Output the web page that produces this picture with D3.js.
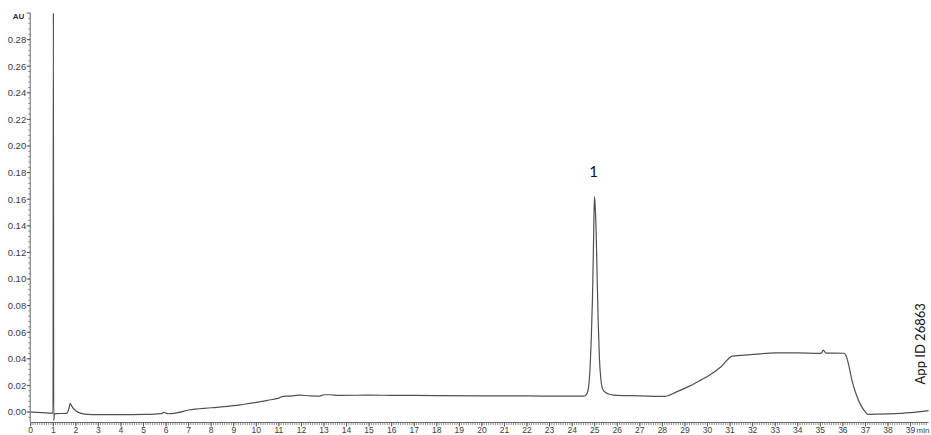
<!DOCTYPE html>
<html>
<head>
<meta charset="utf-8">
<script src="https://cdn.jsdelivr.net/npm/d3@7"></script>
<style>
    body { margin: 0; background: #fff; }
    svg { display: block; }
</style>
</head>
<body>
<svg id="chart" width="931" height="435"></svg>
<script>
// chromatogram trace: [time (min), absorbance (AU)]
const trace = [
    [0, 0.0], [0.5, -0.0004], [0.97, -0.0008], [0.99, -0.0008], [1.005, 0.30],
    [1.02, -0.0065], [1.05, -0.002], [1.1, -0.0012], [1.6, -0.001],
    [1.7, 0.003], [1.75, 0.0065], [1.8, 0.005], [1.9, 0.0025], [2.0, 0.001],
    [2.2, -0.0008], [2.5, -0.0017], [3, -0.002], [4, -0.002], [5, -0.0018],
    [5.8, -0.0012], [5.9, -0.0002], [6.0, -0.0008], [6.1, -0.0013],
    [6.5, -0.0005], [7, 0.0015], [8, 0.0032], [9, 0.0048], [10, 0.0073],
    [10.5, 0.0088], [11, 0.0105], [11.2, 0.0118], [11.5, 0.012],
    [11.9, 0.0127], [12.4, 0.0122], [12.8, 0.012], [13.0, 0.013],
    [13.3, 0.013], [13.6, 0.0125], [15, 0.0127], [16, 0.0125], [18, 0.0124],
    [20, 0.0122], [22, 0.0121], [24, 0.0119], [24.5, 0.012], [24.6, 0.0125],
    [24.7, 0.016], [24.75, 0.022], [24.8, 0.035], [24.85, 0.056],
    [24.9, 0.085], [24.94, 0.12], [24.97, 0.15], [24.99, 0.1617],
    [25.02, 0.155], [25.06, 0.138], [25.11, 0.1], [25.16, 0.065],
    [25.21, 0.04], [25.27, 0.025], [25.36, 0.017], [25.5, 0.0145],
    [25.7, 0.0132], [26, 0.0125], [27, 0.0122], [28.1, 0.0118],
    [28.6, 0.015], [29.2, 0.0195], [29.7, 0.024], [30.1, 0.0278],
    [30.6, 0.034], [31.1, 0.042], [31.9, 0.0431], [33.0, 0.0444],
    [34.0, 0.0445], [34.9, 0.0441], [35.05, 0.0443], [35.13, 0.0466],
    [35.25, 0.0443], [36.05, 0.0442], [36.15, 0.042], [36.25, 0.036],
    [36.4, 0.024], [36.6, 0.0128], [36.8, 0.005], [37.0, 0.0], [37.1, -0.0017],
    [38, -0.0014], [39, -0.0005], [39.8, 0.001]
];

const yTicks = [0, 0.02, 0.04, 0.06, 0.08, 0.10, 0.12, 0.14, 0.16, 0.18, 0.20, 0.22, 0.24, 0.26, 0.28];
const xTicks = d3.range(0, 40);
const peakLabels = [{ t: 24.99, v: 0.1617, text: "1" }];
const appId = "App ID 26863";

const svg = d3.select("#chart");

const x = d3.scaleLinear().domain([0, 39.8]).range([30.7, 928.6]);
const y = d3.scaleLinear().domain([-0.0075, 0.30]).range([422, 13]);

// y axis with minor ticks
const yAxis = svg.append("g").attr("transform", `translate(${x(0) - 0.5},0)`);
yAxis.append("line")
    .attr("y1", y(0.30)).attr("y2", y(-0.0075))
    .attr("stroke", "#666").attr("stroke-width", 1);
yAxis.selectAll(".minor")
    .data(d3.range(-0.004, 0.30, 0.004))
    .enter()
    .append("line")
    .attr("x1", -2).attr("x2", 0)
    .attr("y1", (d) => y(d)).attr("y2", (d) => y(d))
    .attr("stroke", "#777").attr("stroke-width", 0.8);
yAxis.selectAll(".major")
    .data(yTicks)
    .enter()
    .append("line")
    .attr("x1", -3.5).attr("x2", 0)
    .attr("y1", (d) => y(d)).attr("y2", (d) => y(d))
    .attr("stroke", "#555");
yAxis.selectAll("text")
    .data(yTicks)
    .enter()
    .append("text")
    .attr("x", -4)
    .attr("y", (d) => y(d) + 3.3)
    .attr("text-anchor", "end")
    .attr("font-family", "Liberation Sans, Arial, sans-serif")
    .attr("font-size", 9.5)
    .attr("fill", "#3a3a3a")
    .text((d) => d.toFixed(2));
// top end tick + unit label
yAxis.append("line")
    .attr("x1", -3.5).attr("x2", 0)
    .attr("y1", y(0.30)).attr("y2", y(0.30))
    .attr("stroke", "#555");
yAxis.append("text")
    .attr("x", -6).attr("y", y(0.30) + 6)
    .attr("text-anchor", "end")
    .attr("font-family", "Liberation Sans, Arial, sans-serif")
    .attr("font-size", 8).attr("font-weight", "bold")
    .attr("fill", "#333")
    .text("AU");

// x axis with minor ticks
const xAxis = svg.append("g").attr("transform", `translate(0,${y(-0.0075) + 0.5})`);
xAxis.append("line")
    .attr("x1", x(0)).attr("x2", x(39.8))
    .attr("stroke", "#666");
xAxis.selectAll(".minor")
    .data(d3.range(0, 398).map((i) => i / 10))
    .enter()
    .append("line")
    .attr("x1", (d) => x(d)).attr("x2", (d) => x(d))
    .attr("y1", 0).attr("y2", 2.5)
    .attr("stroke", "#777").attr("stroke-width", 0.8);
xAxis.selectAll(".major")
    .data(xTicks)
    .enter()
    .append("line")
    .attr("x1", (d) => x(d)).attr("x2", (d) => x(d))
    .attr("y1", 0).attr("y2", 4)
    .attr("stroke", "#555");
xAxis.selectAll("text")
    .data(xTicks)
    .enter()
    .append("text")
    .attr("x", (d) => x(d))
    .attr("y", 10.5)
    .attr("text-anchor", "middle")
    .attr("font-family", "Liberation Sans, Arial, sans-serif")
    .attr("font-size", 8.5)
    .attr("fill", "#3a3a3a")
    .text((d) => d);
xAxis.append("text")
    .attr("x", x(39) + 6).attr("y", 10.5)
    .attr("font-family", "Liberation Sans, Arial, sans-serif")
    .attr("font-size", 8)
    .attr("fill", "#3a3a3a")
    .text("min");

// trace
const line = d3.line()
    .x((d) => x(d[0]))
    .y((d) => y(d[1]))
    .curve(d3.curveMonotoneX);

svg.append("path")
    .datum(trace)
    .attr("d", line)
    .attr("fill", "none")
    .attr("stroke", "#505050")
    .attr("stroke-width", 1.2);

// peak label
svg.selectAll(".peak")
    .data(peakLabels)
    .enter()
    .append("text")
    .attr("x", (d) => x(d.t) - 1)
    .attr("y", (d) => y(d.v) - 20)
    .attr("text-anchor", "middle")
    .attr("font-family", "Lato, Open Sans, sans-serif")
    .attr("font-size", 15)
    .attr("fill", "#111")
    .text((d) => d.text);

// application id
svg.append("text")
    .attr("transform", `translate(925,${y(0.04) - 15}) rotate(-90)`)
    .attr("text-anchor", "middle")
    .attr("font-family", "Lato, Open Sans, sans-serif")
    .attr("font-size", 13)
    .attr("fill", "#111")
    .text(appId);
</script>
</body>
</html>
